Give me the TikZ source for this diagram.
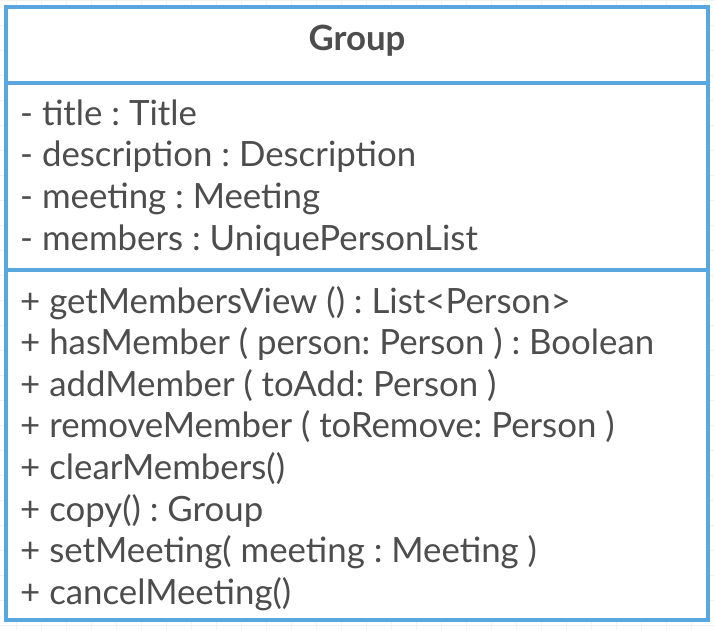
\documentclass[tikz,border=0pt]{standalone}
\usepackage{fontspec}
\setmainfont{Lato}
\frenchspacing
\definecolor{umlblue}{HTML}{5AA6DE}
\definecolor{umltext}{HTML}{4D4D4D}
\definecolor{gridgray}{HTML}{F2F2F2}
\tikzset{
    member/.style={anchor=base west, inner sep=0pt, text=umltext,
        font=\fontsize{34.8}{40}\selectfont},
    classname/.style={anchor=base, inner sep=0pt, text=umltext,
        font=\fontsize{34.8}{40}\selectfont\bfseries},
    classbox/.style={draw=umlblue, line width=3.5pt}
}
\begin{document}
\begin{tikzpicture}[x=1pt, y=-1pt]
    \useasboundingbox (0,0) rectangle (714,630);
    % faint background grid
    \foreach \gx in {16.7,41.7,...,714} {
        \draw[gridgray, line width=0.8pt] (\gx,0) -- (\gx,630);
    }
    \foreach \gy in {0,25,...,630} {
        \draw[gridgray, line width=0.8pt] (0,\gy) -- (714,\gy);
    }
    \fill[white] (6,7) rectangle (708,620);
    % class box and compartments
    \node[classname] (name) at (357,50) {Group};
    \coordinate (sepAL) at (6,83);
    \coordinate (sepAR) at (708,83);
    \coordinate (sepBL) at (6,270);
    \coordinate (sepBR) at (708,270);
    \foreach \txt [count=\i] in {
        - title : Title,
        - description : Description,
        - meeting : Meeting,
        - members : UniquePersonList} {
        \node[member] (attr\i) at (20,{125+41.7*(\i-1)}) {\txt};
    }
    \foreach \txt [count=\i] in {
        + getMembersView () : List<Person>,
        + hasMember ( person: Person ) : Boolean,
        + addMember ( toAdd: Person ),
        + removeMember ( toRemove: Person ),
        + clearMembers(),
        + copy() : Group,
        + setMeeting( meeting : Meeting ),
        + cancelMeeting()} {
        \node[member] (op\i) at (20,{313+41.6*(\i-1)}) {\txt};
    }
    \draw[classbox] (6,7) rectangle (708,620);
    \draw[classbox] (sepAL) -- (sepAR);
    \draw[classbox] (sepBL) -- (sepBR);
\end{tikzpicture}
\end{document}
